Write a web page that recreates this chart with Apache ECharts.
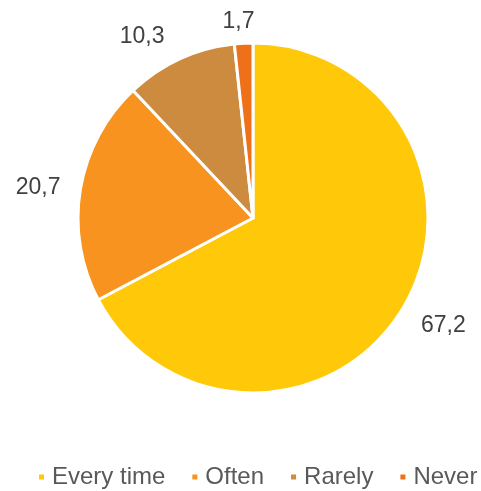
<!DOCTYPE html>
<html>
<head>
<meta charset="utf-8">
<script src="https://cdn.jsdelivr.net/npm/echarts@6/dist/echarts.min.js"></script>
<style>
  html, body { margin: 0; padding: 0; background: #fff; }
  #chart { width: 481px; height: 491px; }
</style>
</head>
<body>
<div id="chart"></div>
<script>
// Answer categories and their shares (%)
const categories = ['Every time', 'Often', 'Rarely', 'Never'];
const shares = [67.2, 20.7, 10.3, 1.7];
const colors = ['#FFC90A', '#F7931E', '#CC8B3E', '#EE7019'];
// Per-slice leader offsets used to place the value labels (line itself hidden)
const leadLen = [34, 7, 25, 22];
const leadLen2 = [-16, 8, 0, -17];

const chart = echarts.init(document.getElementById('chart'));
chart.setOption({
  animation: false,
  color: colors,
  legend: {
    top: 465,
    left: 37,
    width: 444,
    padding: 0,
    icon: 'rect',
    itemWidth: 7,
    itemHeight: 7,
    itemGap: 25,
    textStyle: { fontFamily: 'Liberation Sans', fontSize: 24, color: '#595959', padding: [0, 0, 0, 2] },
    data: categories
  },
  series: [{
    type: 'pie',
    center: [253, 218],
    radius: [0, 175],
    startAngle: 90,
    clockwise: true,
    avoidLabelOverlap: false,
    itemStyle: { borderColor: '#ffffff', borderWidth: 3 },
    label: {
      show: true,
      position: 'outside',
      fontFamily: 'Liberation Sans',
      fontSize: 23,
      color: '#404040',
      formatter: p => String(p.value).replace('.', ',')
    },
    labelLine: { show: false },
    data: categories.map((c, i) => ({
      name: c,
      value: shares[i],
      labelLine: { show: false, length: leadLen[i], length2: leadLen2[i] }
    }))
  }]
});
</script>
</body>
</html>
